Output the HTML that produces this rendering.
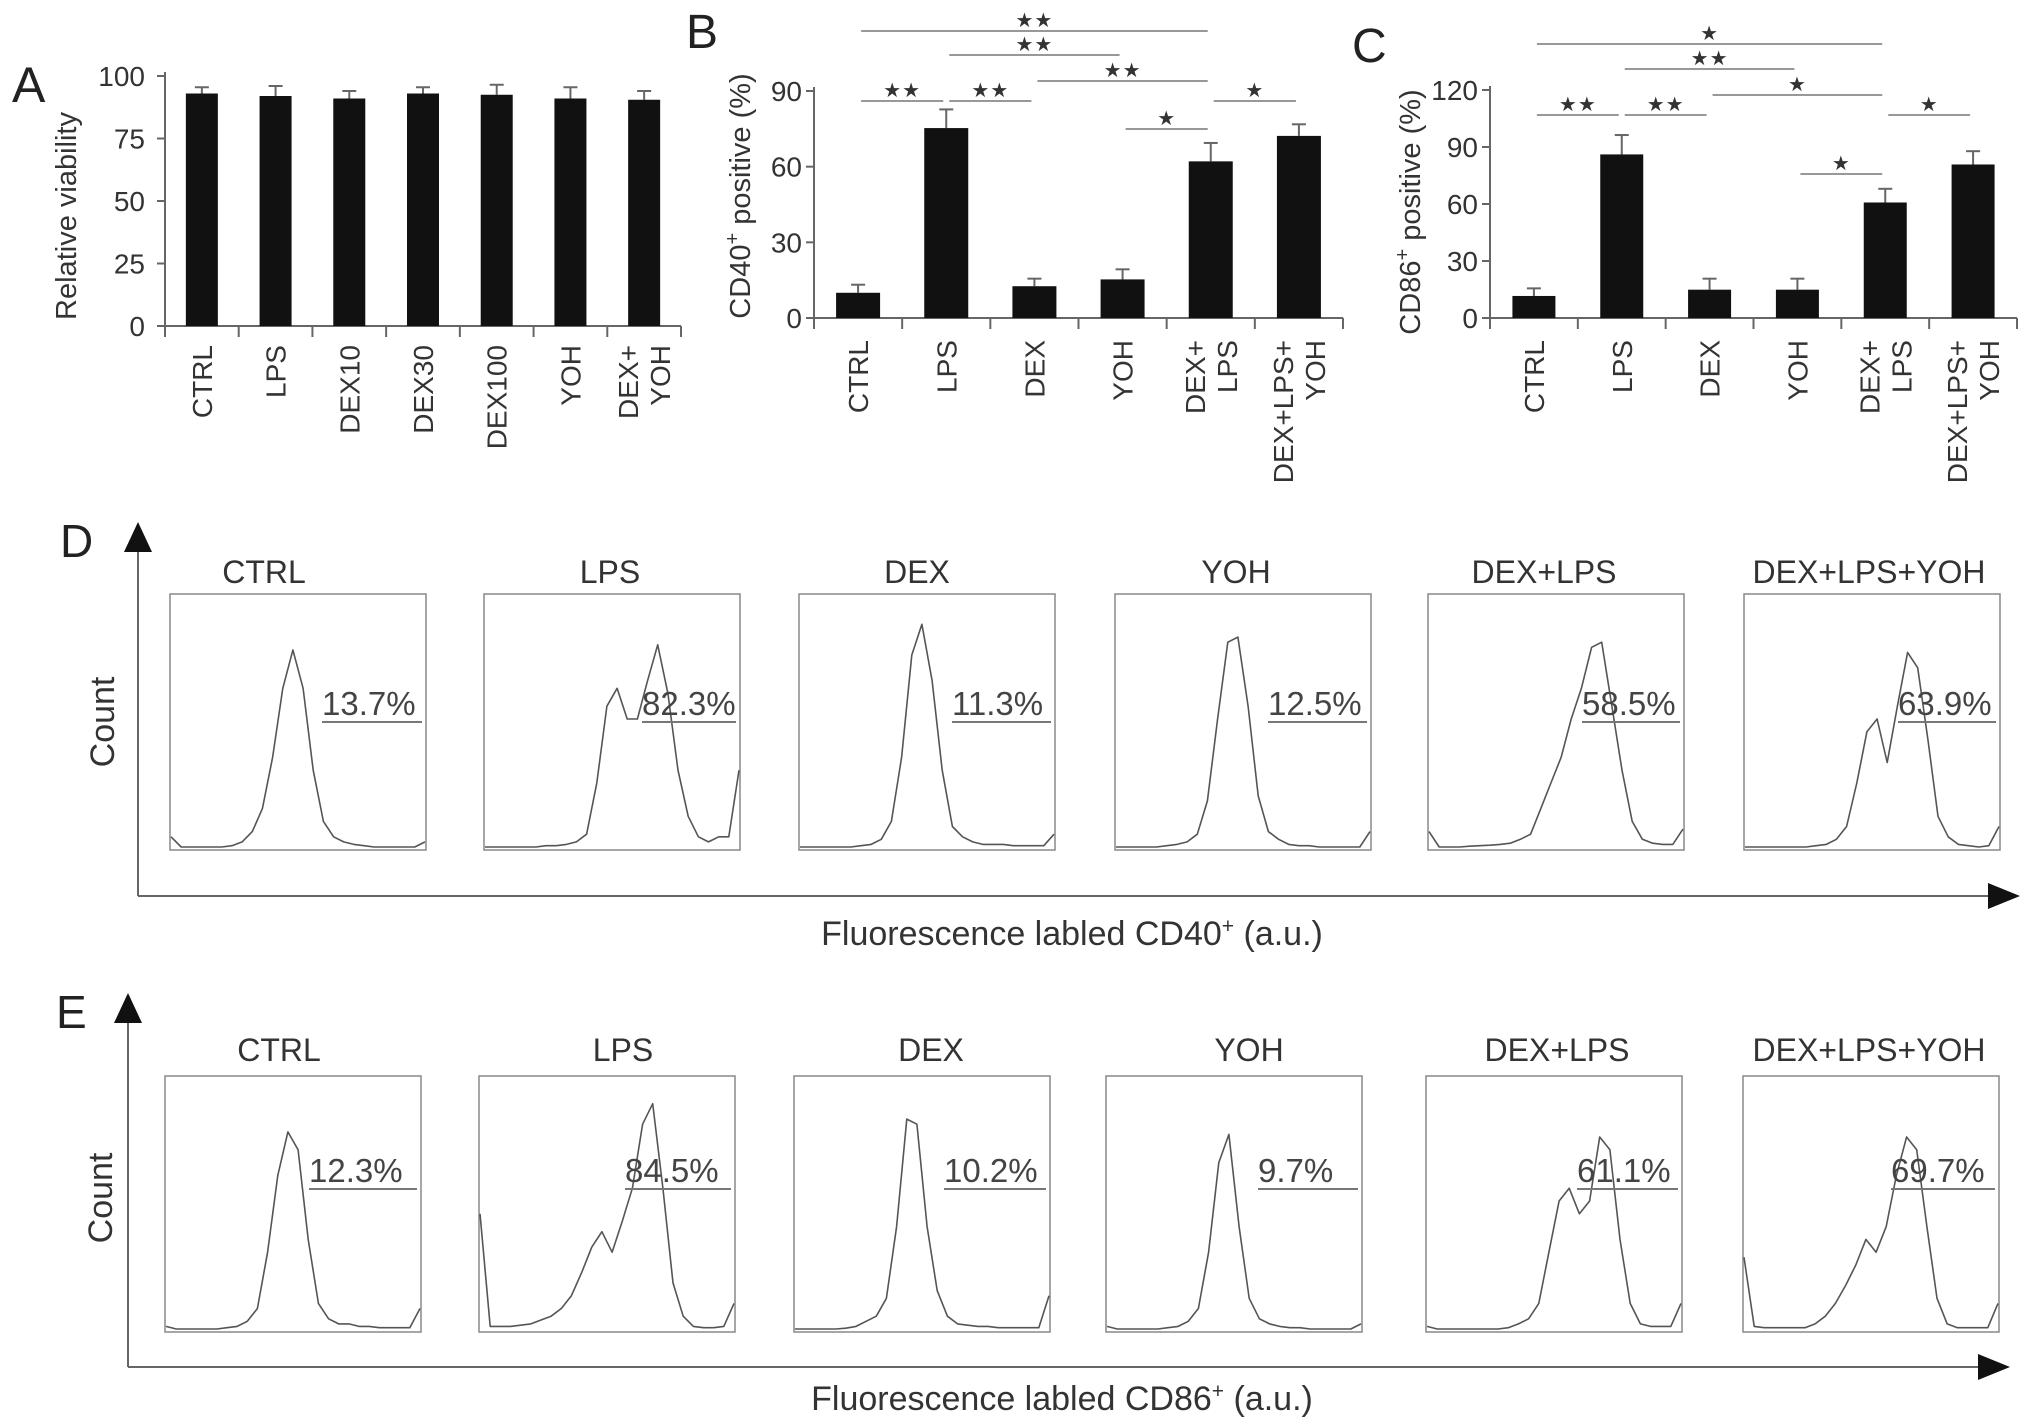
<!DOCTYPE html>
<html><head><meta charset="utf-8"><style>
html,body{margin:0;padding:0;background:#fff;}
svg{display:block;font-family:"Liberation Sans",sans-serif;}
</style></head><body>
<svg id="fig" width="2032" height="1428" viewBox="0 0 2032 1428" xmlns="http://www.w3.org/2000/svg"></svg>
<script>
// ---------- Panel A data ----------
const catsA = ["CTRL","LPS","DEX10","DEX30","DEX100","YOH","DEX+|YOH"];
const valsA = [93,92,91,93,92.5,91,90.5];
const errsA = [2.5,4,3,2.5,4,4.5,3.5];
const ticksA = [0,25,50,75,100];
// ---------- Panel B data ----------
const catsB = ["CTRL","LPS","DEX","YOH","DEX+|LPS","DEX+LPS+|YOH"];
const valsB = [10,75.3,12.6,15.3,62.1,72.2];
const errsB = [3.2,7.4,3,4,7.3,4.6];
const ticksB = [0,30,60,90];
const sigB_from = [0,1,2,0,1,4,3];
const sigB_to   = [4,3,4,1,2,5,4];
const sigB_lbl  = ["★★","★★","★★","★★","★★","★","★"];
// ---------- Panel C data ----------
const catsC = ["CTRL","LPS","DEX","YOH","DEX+|LPS","DEX+LPS+|YOH"];
const valsC = [11.6,86.1,14.9,14.9,60.8,80.8];
const errsC = [4,10.2,5.8,5.8,7.2,7];
const ticksC = [0,30,60,90,120];
const sigC_from = [0,1,2,0,1,4,3];
const sigC_to   = [4,3,4,1,2,5,4];
const sigC_lbl  = ["★","★★","★","★★","★★","★","★"];
// ---------- Histogram data (26 bins, fraction of box height) ----------
const histTitles = ["CTRL","LPS","DEX","YOH","DEX+LPS","DEX+LPS+YOH"];
const pctD = ["13.7%","82.3%","11.3%","12.5%","58.5%","63.9%"];
const pctE = ["12.3%","84.5%","10.2%","9.7%","61.1%","69.7%"];
const hD0 = [0.04,0,0,0,0,0,0.005,0.02,0.06,0.15,0.35,0.62,0.77,0.62,0.3,0.1,0.04,0.02,0.01,0.005,0,0,0,0,0,0.02];
const hD1 = [0,0,0,0,0,0,0.005,0.005,0.01,0.02,0.05,0.25,0.55,0.62,0.5,0.5,0.65,0.79,0.6,0.3,0.12,0.04,0.02,0.04,0.04,0.3];
const hD2 = [0,0,0,0,0,0,0.005,0.01,0.03,0.1,0.35,0.75,0.87,0.65,0.3,0.08,0.04,0.02,0.01,0.01,0.01,0.005,0.005,0.005,0.005,0.05];
const hD3 = [0,0,0,0,0,0.005,0.01,0.02,0.05,0.18,0.5,0.8,0.82,0.55,0.2,0.06,0.03,0.01,0.005,0.005,0,0,0,0,0,0.06];
const hD4 = [0.06,0,0,0,0.003,0.005,0.007,0.01,0.015,0.03,0.05,0.15,0.25,0.35,0.5,0.62,0.78,0.8,0.55,0.3,0.1,0.03,0.015,0.01,0.01,0.07];
const hD5 = [0,0,0,0,0,0,0,0.005,0.01,0.03,0.08,0.25,0.45,0.5,0.33,0.55,0.76,0.7,0.42,0.12,0.04,0.01,0.005,0,0.005,0.08];
const hE0 = [0.01,0,0,0,0,0,0.005,0.01,0.03,0.08,0.3,0.6,0.77,0.7,0.35,0.1,0.04,0.02,0.02,0.01,0.01,0.005,0.005,0.005,0.005,0.08];
const hE1 = [0.45,0.01,0.01,0.01,0.015,0.02,0.035,0.05,0.08,0.13,0.22,0.32,0.38,0.3,0.42,0.55,0.8,0.88,0.55,0.18,0.05,0.01,0.005,0.005,0.01,0.1];
const hE2 = [0,0,0,0,0,0.003,0.01,0.03,0.05,0.12,0.4,0.82,0.8,0.4,0.15,0.05,0.02,0.015,0.01,0.01,0.005,0.005,0.005,0.005,0.005,0.13];
const hE3 = [0.01,0,0,0,0,0,0.005,0.01,0.03,0.08,0.3,0.65,0.76,0.4,0.12,0.04,0.02,0.01,0.005,0.005,0,0,0,0,0,0.02];
const hE4 = [0.01,0,0,0,0,0,0,0,0.005,0.02,0.04,0.1,0.3,0.5,0.55,0.45,0.5,0.75,0.7,0.35,0.1,0.02,0.01,0.01,0.01,0.1];
const hE5 = [0.28,0.01,0.005,0.005,0.005,0.005,0.005,0.02,0.05,0.1,0.17,0.25,0.35,0.3,0.4,0.6,0.75,0.7,0.4,0.12,0.02,0.005,0.005,0.005,0.005,0.1];

const NS = "http://www.w3.org/2000/svg";
const svg = document.getElementById("fig");
function mk(tag, attrs, parent){
  const e = document.createElementNS(NS, tag);
  for (const k in attrs) e.setAttribute(k, attrs[k]);
  (parent||svg).appendChild(e);
  return e;
}
const TXT = "#333", AX = "#666";

function panelLetter(ch, x, y, size){
  const t = mk("text",{x:x,y:y,"font-size":size,fill:"#222"});
  
  
  t.textContent = ch;
}

function barChart(o){
  const g = mk("g",{});
  
  
  const n = o.cats.length;
  const step = (o.x1 - o.x0)/n;
  const ys = v => o.y0 - (v - 0)/(o.max)*(o.y0 - o.yTop);
  const xs = i => o.x0 + step*(i+0.5);
  const ya = mk("line",{x1:o.x0,y1:o.yTop-4,x2:o.x0,y2:o.y0,stroke:AX,"stroke-width":2},g);
  
  
  o.ticks.forEach(t=>{
    const y = ys(t);
    const tk = mk("line",{x1:o.x0-8,y1:y,x2:o.x0,y2:y,stroke:AX,"stroke-width":2},g);
    
    
    const tl = mk("text",{x:o.x0-o.gap,y:y+10,"font-size":28,fill:TXT,"text-anchor":"end"},g);
    
    
    tl.textContent = t;
  });
  const xa = mk("line",{x1:o.x0,y1:o.y0,x2:o.x1,y2:o.y0,stroke:AX,"stroke-width":2},g);
  
  
  for(let i=0;i<=n;i++){
    const tk = mk("line",{x1:o.x0+step*i,y1:o.y0,x2:o.x0+step*i,y2:o.y0+11,stroke:AX,"stroke-width":2},g);
    
    
  }
  o.cats.forEach((c,i)=>{
    const cx = xs(i), top = ys(o.vals[i]), et = ys(o.vals[i]+o.errs[i]);
    const eb = mk("line",{x1:cx,y1:top,x2:cx,y2:et,stroke:AX,"stroke-width":2},g);
    
    
    const cap = mk("line",{x1:cx-7,y1:et,x2:cx+7,y2:et,stroke:AX,"stroke-width":2},g);
    
    
    const r = mk("rect",{x:cx-o.bw/2,y:top,width:o.bw,height:o.y0-top,fill:"#111"},g);
    
    
    const lines = c.split("|");
    const lt = mk("text",{transform:`translate(${cx},${o.labTop}) rotate(-90)`,"font-size":28,fill:TXT,"text-anchor":"end"},g);
    
    
    lines.forEach((ln,k)=>{
      const ts = mk("tspan",{x:0,y: lines.length===1 ? 10 : (k===0 ? -6 : 26)},lt);
      ts.textContent = ln;
    });
  });
  if (o.sigFrom){
    o.sigFrom.forEach((f,k)=>{
      const t = o.sigTo[k], y = o.sigY[k];
      const sl = mk("line",{x1:xs(f)+3,y1:y,x2:xs(t)-3,y2:y,stroke:"#777","stroke-width":1.5},g);
      
      
      const st = mk("text",{x:(xs(f)+xs(t))/2,y:y-4,"font-size":20,fill:"#333","text-anchor":"middle","letter-spacing":1},g);
      
      
      st.textContent = o.sigLbl[k];
    });
  }
  const yt = mk("text",{transform:`translate(${o.ytx},${o.yty}) rotate(-90)`,"font-size":29,fill:TXT,"text-anchor":"middle"},g);
  
  
  o.ytitle.forEach(p=>{
    const ts = mk("tspan",p.sup?{dy:-11,"font-size":20}:(p.after?{dy:11}:{}),yt);
    ts.textContent = p.t;
  });
}

barChart({name:"panel-a-viability-chart",cats:catsA,vals:valsA,errs:errsA,ticks:ticksA,max:100,
  x0:165,x1:681,y0:326,yTop:76,bw:32,gap:20,labTop:345,ytx:76,yty:216,
  ytitle:[{t:"Relative viability"}]});
barChart({name:"panel-b-cd40-chart",cats:catsB,vals:valsB,errs:errsB,ticks:ticksB,max:90,
  x0:814,x1:1343,y0:318,yTop:91,bw:44,gap:12,labTop:340,ytx:750,yty:196,
  ytitle:[{t:"CD40"},{t:"+",sup:true},{t:" positive (%)",after:true}],
  sigFrom:sigB_from,sigTo:sigB_to,sigLbl:sigB_lbl,sigY:[31,55,81,101,101,101,129]});
barChart({name:"panel-c-cd86-chart",cats:catsC,vals:valsC,errs:errsC,ticks:ticksC,max:120,
  x0:1490,x1:2017,y0:318,yTop:90,bw:43,gap:12,labTop:340,ytx:1420,yty:212,
  ytitle:[{t:"CD86"},{t:"+",sup:true},{t:" positive (%)",after:true}],
  sigFrom:sigC_from,sigTo:sigC_to,sigLbl:sigC_lbl,sigY:[44,69,95,115,115,115,174]});

panelLetter("A",12,102,50);
panelLetter("B",686,48,48);
panelLetter("C",1352,62,48);

function histRow(o){
  const g = mk("g",{});
  
  
  const ya = mk("line",{x1:o.ax,y1:o.arrowBase,x2:o.ax,y2:o.axY,stroke:AX,"stroke-width":2},g);
  
  
  const ua = mk("polygon",{points:`${o.ax-14},${o.arrowBase} ${o.ax+14},${o.arrowBase} ${o.ax},${o.arrowTip}`,fill:"#111"},g);
  
  
  const xa = mk("line",{x1:o.ax,y1:o.axY,x2:o.xEnd-30,y2:o.axY,stroke:AX,"stroke-width":2},g);
  
  
  const ra = mk("polygon",{points:`${o.xEnd-32},${o.axY-13} ${o.xEnd-32},${o.axY+13} ${o.xEnd},${o.axY}`,fill:"#111"},g);
  
  
  const ct = mk("text",{transform:`translate(${o.countX},${o.countY}) rotate(-90)`,"font-size":34,fill:TXT,"text-anchor":"middle"},g);
  
  
  ct.textContent = "Count";
  const xt = mk("text",{x:o.xtX,y:o.xtY,"font-size":34,fill:TXT,"text-anchor":"middle"},g);
  
  
  const a1 = mk("tspan",{},xt); a1.textContent = "Fluorescence labled "+o.marker;
  const a2 = mk("tspan",{dy:-12,"font-size":21},xt); a2.textContent = "+";
  const a3 = mk("tspan",{dy:12},xt); a3.textContent = " (a.u.)";
  o.lefts.forEach((L,i)=>{
    const W = 256, H = 256, T = o.top;
    const hg = mk("g",{},g);
    
    
    const tt = mk("text",{x:o.titleX[i],y:o.titleY,"font-size":32,fill:TXT,"text-anchor":"middle"},hg);
    
    
    tt.textContent = histTitles[i];
    const bx = mk("rect",{x:L,y:T,width:W,height:H,fill:"none",stroke:"#888","stroke-width":1.5},hg);
    
    
    const d = o.data[i];
    const pts = d.map((v,k)=>`${(L+1+k/(d.length-1)*(W-2)).toFixed(1)},${(T+H-3-v*H).toFixed(1)}`).join(" ");
    const pl = mk("polyline",{points:pts,fill:"none",stroke:"#555","stroke-width":1.6,"stroke-linejoin":"round"},hg);
    
    
    const gx = L + o.gateRel[i];
    const gl = mk("line",{x1:gx,y1:o.gateY,x2:L+W-4,y2:o.gateY,stroke:"#777","stroke-width":2},hg);
    
    
    const pt = mk("text",{x:gx,y:o.gateY-7,"font-size":33,fill:"#444"},hg);
    
    
    pt.textContent = o.pcts[i];
  });
}

histRow({name:"panel-d-cd40-histograms",marker:"CD40",ax:138,arrowTip:522,arrowBase:552,axY:896,xEnd:2020,
  countX:114,countY:722,xtX:1072,xtY:945,top:594,
  lefts:[170,484,799,1115,1428,1744],titleX:[264,610,917,1236,1544,1869],titleY:583,
  gateY:722,gateRel:[152,158,153,153,154,154],pcts:pctD,data:[hD0,hD1,hD2,hD3,hD4,hD5]});
histRow({name:"panel-e-cd86-histograms",marker:"CD86",ax:128,arrowTip:993,arrowBase:1023,axY:1367,xEnd:2010,
  countX:112,countY:1198,xtX:1062,xtY:1410,top:1076,
  lefts:[165,479,794,1106,1426,1743],titleX:[279,623,931,1249,1557,1869],titleY:1061,
  gateY:1189,gateRel:[144,146,150,152,151,148],pcts:pctE,data:[hE0,hE1,hE2,hE3,hE4,hE5]});

panelLetter("D",60,557,46);
panelLetter("E",56,1028,46);
</script>
</body></html>
